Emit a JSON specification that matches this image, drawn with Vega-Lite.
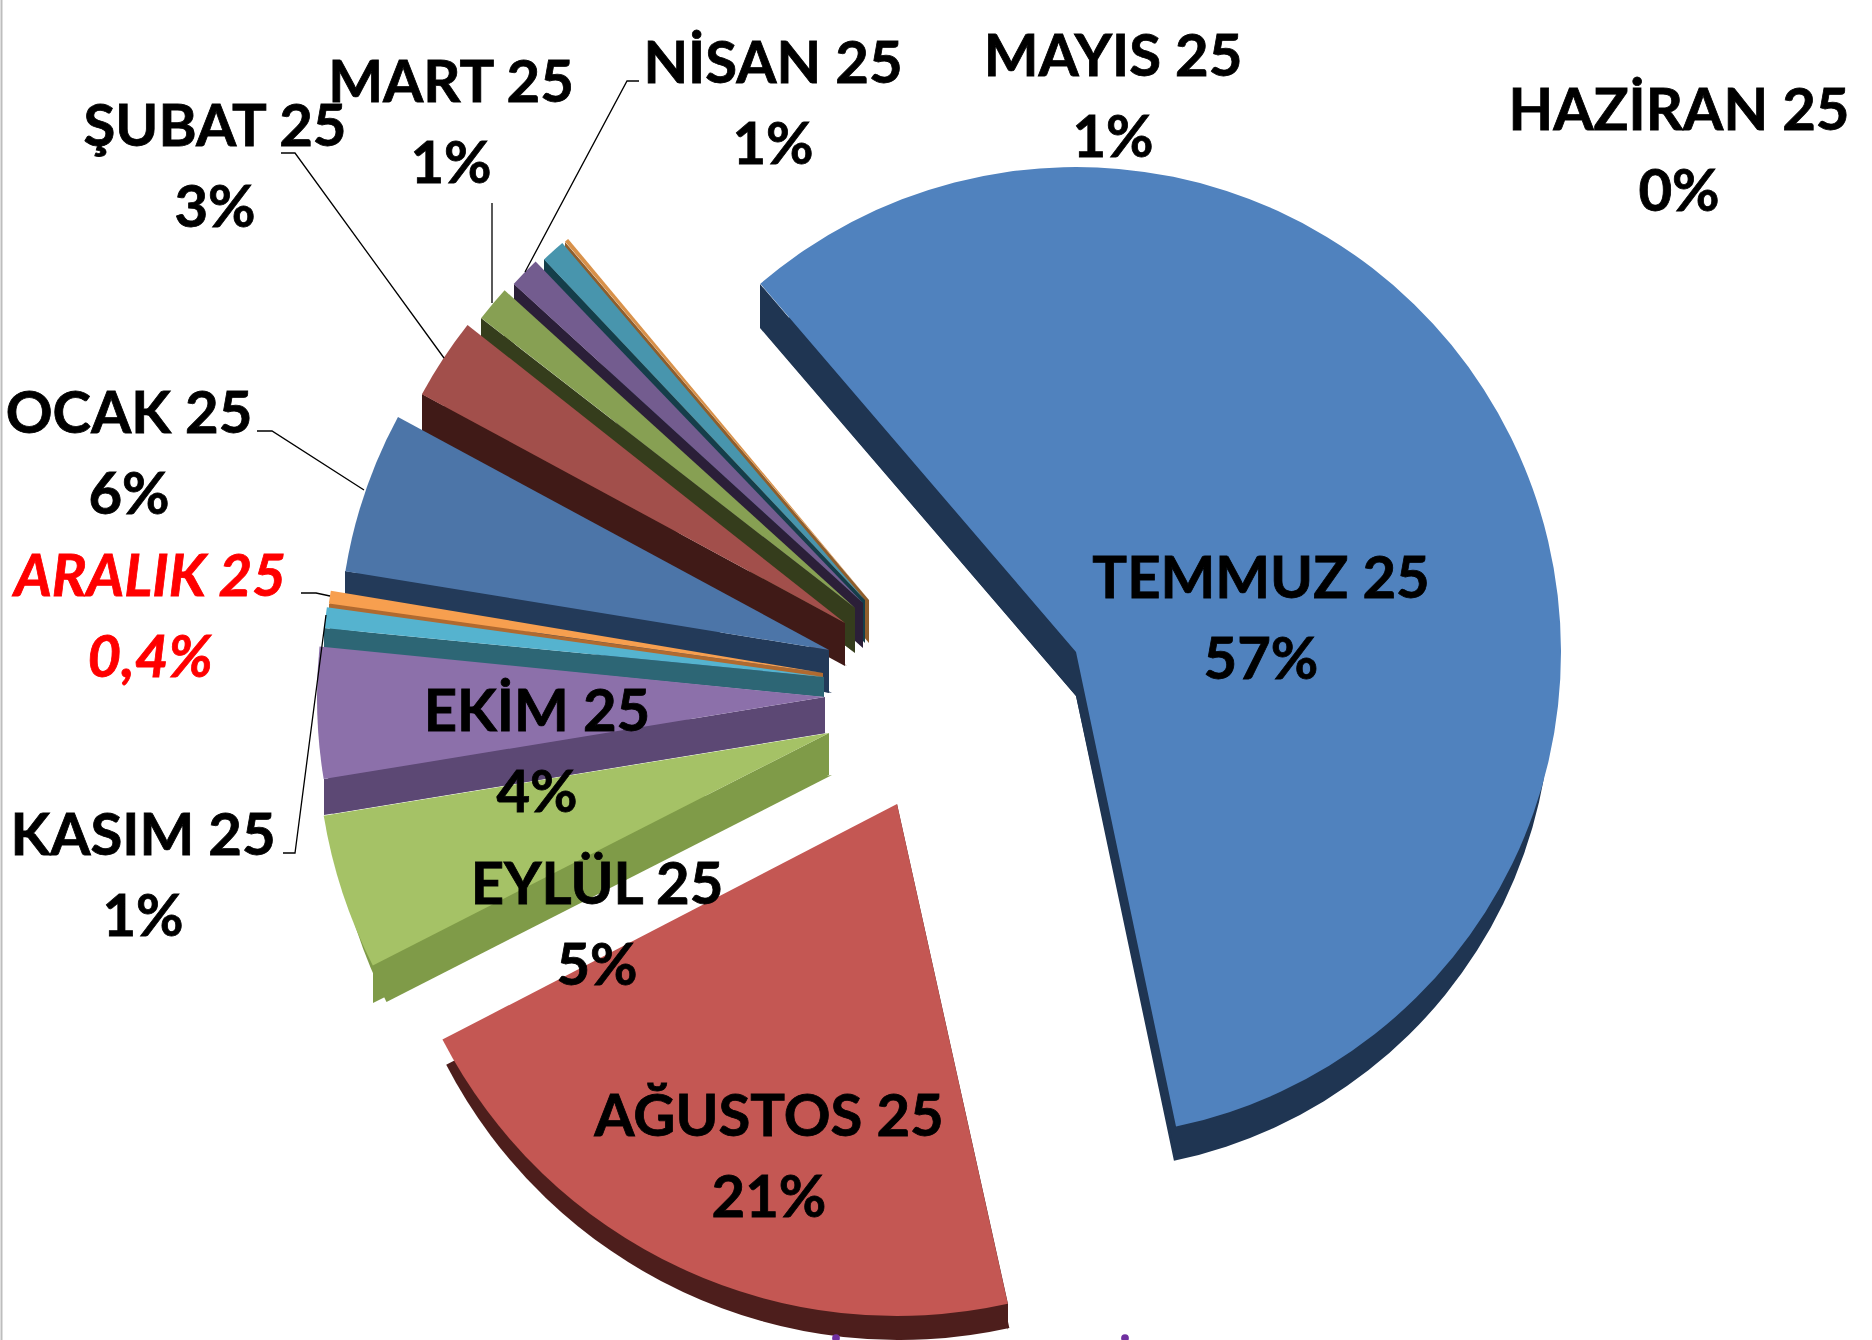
{
"$schema":"https://vega.github.io/schema/vega-lite/v6.json",
"width":1872,"height":1340,"padding":0,"autosize":{"type":"none"},
"background":"white",
"config":{"view":{"stroke":null}},
"datasets":{
"dilimler":[
{"ay":"HAZİRAN 25","pay":0.1,"baslangic":319.7,"bitis":320.2,"mx":869,"my":600,"yaricap":470,"alt_x":869,"alt_y":643,"alt_r":470},
{"ay":"MAYIS 25","pay":0.8,"baslangic":316.7,"bitis":319.7,"mx":865,"my":600,"yaricap":468,"alt_x":865,"alt_y":643,"alt_r":468},
{"ay":"NİSAN 25","pay":1.1,"baslangic":312.4,"bitis":316.2,"mx":863,"my":603,"yaricap":473,"alt_x":863,"alt_y":648,"alt_r":473},
{"ay":"MART 25","pay":1.2,"baslangic":307.8,"bitis":312.2,"mx":855,"my":608,"yaricap":473,"alt_x":855,"alt_y":653,"alt_r":473},
{"ay":"ŞUBAT 25","pay":2.8,"baslangic":298.4,"bitis":308.3,"mx":845,"my":623,"yaricap":481,"alt_x":847,"alt_y":666,"alt_r":480},
{"ay":"OCAK 25","pay":5.3,"baslangic":279.25,"bitis":298.4,"mx":829,"my":650,"yaricap":490,"alt_x":832,"alt_y":693,"alt_r":490},
{"ay":"ARALIK 25","pay":0.4,"baslangic":278,"bitis":279.5,"mx":823,"my":673,"yaricap":499,"alt_x":823,"alt_y":678,"alt_r":499},
{"ay":"KASIM 25","pay":0.7,"baslangic":275.6,"bitis":278,"mx":824,"my":677,"yaricap":502,"alt_x":825,"alt_y":697,"alt_r":500},
{"ay":"EKİM 25","pay":4.2,"baslangic":260.7,"bitis":275.7,"mx":825,"my":697,"yaricap":508,"alt_x":826,"alt_y":733,"alt_r":500},
{"ay":"EYLÜL 25","pay":4.9,"baslangic":243,"bitis":260.7,"mx":829,"my":733,"yaricap":512,"alt_x":832,"alt_y":775,"alt_r":500},
{"ay":"AĞUSTOS 25","pay":20.9,"baslangic":167.5,"bitis":242.6,"mx":897,"my":804,"yaricap":512,"alt_x":899,"alt_y":830,"alt_r":510},
{"ay":"TEMMUZ 25","pay":57.7,"baslangic":-40.6,"bitis":168.1,"mx":1076,"my":652,"yaricap":485,"alt_x":1076,"alt_y":696,"alt_r":475}
],
"yan_yuzler":[
{"ay":"HAZİRAN 25","kenar":"a","px":565,"ust":242,"alt":285},{"ay":"HAZİRAN 25","kenar":"a","px":869,"ust":600,"alt":643},
{"ay":"MAYIS 25","kenar":"a","px":544,"ust":259,"alt":302},{"ay":"MAYIS 25","kenar":"a","px":865,"ust":600,"alt":643},
{"ay":"NİSAN 25","kenar":"a","px":514,"ust":284,"alt":329},{"ay":"NİSAN 25","kenar":"a","px":863,"ust":603,"alt":648},
{"ay":"MART 25","kenar":"a","px":481,"ust":318,"alt":363},{"ay":"MART 25","kenar":"a","px":855,"ust":608,"alt":653},
{"ay":"ŞUBAT 25","kenar":"a","px":422,"ust":394,"alt":437},{"ay":"ŞUBAT 25","kenar":"a","px":845,"ust":623,"alt":666},
{"ay":"OCAK 25","kenar":"a","px":345,"ust":571,"alt":594},{"ay":"OCAK 25","kenar":"a","px":829,"ust":650,"alt":693},
{"ay":"ARALIK 25","kenar":"a","px":329,"ust":604,"alt":609},{"ay":"ARALIK 25","kenar":"a","px":823,"ust":673,"alt":678},
{"ay":"KASIM 25","kenar":"a","px":324,"ust":628,"alt":648},{"ay":"KASIM 25","kenar":"a","px":824,"ust":677,"alt":697},
{"ay":"EKİM 25","kenar":"a","px":324,"ust":779,"alt":815},{"ay":"EKİM 25","kenar":"a","px":825,"ust":697,"alt":733},
{"ay":"EYLÜL 25","kenar":"a","px":373,"ust":965,"alt":1003},{"ay":"EYLÜL 25","kenar":"a","px":829,"ust":733,"alt":775},
{"ay":"AĞUSTOS 25","kenar":"a","px":1008,"ust":1304,"alt":1330},{"ay":"AĞUSTOS 25","kenar":"a","px":897,"ust":804,"alt":830},
{"ay":"TEMMUZ 25","kenar":"a","px":760,"ust":284,"alt":328},{"ay":"TEMMUZ 25","kenar":"a","px":1076,"ust":652,"alt":696},
{"ay":"TEMMUZ 25","kenar":"b","px":1176,"ust":1127,"alt":1157},{"ay":"TEMMUZ 25","kenar":"b","px":1076,"ust":652,"alt":696}
],
"etiketler":[
{"metin":"TEMMUZ 25\n57%","lx":1261,"ly":581,"vurgu":false},
{"metin":"AĞUSTOS 25\n21%","lx":769,"ly":1119,"vurgu":false},
{"metin":"EYLÜL 25\n5%","lx":597,"ly":887,"vurgu":false},
{"metin":"EKİM 25\n4%","lx":537,"ly":714,"vurgu":false},
{"metin":"KASIM 25\n1%","lx":143,"ly":838,"vurgu":false},
{"metin":"ARALIK 25\n0,4%","lx":150,"ly":579,"vurgu":true},
{"metin":"OCAK 25\n6%","lx":129,"ly":416,"vurgu":false},
{"metin":"ŞUBAT 25\n3%","lx":215,"ly":129,"vurgu":false},
{"metin":"MART 25\n1%","lx":451,"ly":85,"vurgu":false},
{"metin":"NİSAN 25\n1%","lx":773,"ly":66,"vurgu":false},
{"metin":"MAYIS 25\n1%","lx":1113,"ly":59,"vurgu":false},
{"metin":"HAZİRAN 25\n0%","lx":1679,"ly":113,"vurgu":false}
],
"cizgiler":[
{"ay":"NİSAN","s":1,"px":639,"py":81},{"ay":"NİSAN","s":2,"px":627,"py":81},{"ay":"NİSAN","s":3,"px":525,"py":272},
{"ay":"MART","s":1,"px":492,"py":203},{"ay":"MART","s":2,"px":492,"py":303},
{"ay":"ŞUBAT","s":1,"px":281,"py":153},{"ay":"ŞUBAT","s":2,"px":295,"py":153},{"ay":"ŞUBAT","s":3,"px":444,"py":358},
{"ay":"OCAK","s":1,"px":257,"py":431},{"ay":"OCAK","s":2,"px":272,"py":431},{"ay":"OCAK","s":3,"px":364,"py":490},
{"ay":"ARALIK","s":1,"px":301,"py":593},{"ay":"ARALIK","s":2,"px":316,"py":593},{"ay":"ARALIK","s":3,"px":330,"py":596},
{"ay":"KASIM","s":1,"px":283,"py":853},{"ay":"KASIM","s":2,"px":295,"py":853},{"ay":"KASIM","s":3,"px":326,"py":615}
],
"noktalar":[{"px":836,"py":1338},{"px":1125,"py":1338}]
},
"layer":[
{"data":{"values":[{"px":1.5}]},"mark":{"type":"rule","color":"#bdbdbd","strokeWidth":2},"encoding":{"x":{"field":"px","type":"quantitative","scale":{"domain":[0,1872],"nice":false,"zero":false},"axis":null}}},
{"data":{"name":"dilimler"},"mark":{"type":"arc"},"encoding":{
"x":{"field":"alt_x","type":"quantitative","scale":{"domain":[0,1872],"nice":false,"zero":false},"axis":null},
"y":{"field":"alt_y","type":"quantitative","scale":{"domain":[1340,0],"nice":false,"zero":false},"axis":null},
"theta":{"field":"baslangic","type":"quantitative","stack":null,"scale":{"domain":[0,360],"range":[0,6.283185307]}},
"theta2":{"field":"bitis"},
"radius":{"field":"alt_r","type":"quantitative","scale":{"type":"linear","domain":[0,670],"range":[0,670]}},
"color":{"field":"ay","type":"nominal","legend":null,"scale":{"domain":["HAZİRAN 25","MAYIS 25","NİSAN 25","MART 25","ŞUBAT 25","OCAK 25","ARALIK 25","KASIM 25","EKİM 25","EYLÜL 25","AĞUSTOS 25","TEMMUZ 25"],"range":["#8f5e2c","#153e4a","#2b1f38","#353d1c","#401a17","#233a59","#b06a30","#2d6675","#5c4874","#7f9b48","#4d1e1c","#1f3552"]}}
}},
{"data":{"name":"yan_yuzler"},"mark":{"type":"area","orient":"vertical"},"encoding":{
"x":{"field":"px","type":"quantitative","scale":{"domain":[0,1872],"nice":false,"zero":false},"axis":null},
"y":{"field":"ust","type":"quantitative","stack":null,"scale":{"domain":[1340,0],"nice":false,"zero":false},"axis":null},
"y2":{"field":"alt"},
"detail":{"field":"kenar"},
"color":{"field":"ay","type":"nominal","legend":null,"scale":{"domain":["HAZİRAN 25","MAYIS 25","NİSAN 25","MART 25","ŞUBAT 25","OCAK 25","ARALIK 25","KASIM 25","EKİM 25","EYLÜL 25","AĞUSTOS 25","TEMMUZ 25"],"range":["#8f5e2c","#153e4a","#2b1f38","#353d1c","#401a17","#233a59","#b06a30","#2d6675","#5c4874","#7f9b48","#4d1e1c","#1f3552"]}}
}},
{"data":{"name":"dilimler"},"mark":{"type":"arc"},"encoding":{
"x":{"field":"mx","type":"quantitative","scale":{"domain":[0,1872],"nice":false,"zero":false},"axis":null},
"y":{"field":"my","type":"quantitative","scale":{"domain":[1340,0],"nice":false,"zero":false},"axis":null},
"theta":{"field":"baslangic","type":"quantitative","stack":null,"scale":{"domain":[0,360],"range":[0,6.283185307]}},
"theta2":{"field":"bitis"},
"radius":{"field":"yaricap","type":"quantitative","scale":{"type":"linear","domain":[0,670],"range":[0,670]}},
"fill":{"field":"ay","type":"nominal","legend":null,"scale":{"domain":["HAZİRAN 25","MAYIS 25","NİSAN 25","MART 25","ŞUBAT 25","OCAK 25","ARALIK 25","KASIM 25","EKİM 25","EYLÜL 25","AĞUSTOS 25","TEMMUZ 25"],"range":["#d8914a","#4895ad","#735c8f","#87a053","#a24f4b","#4c75a8","#f79f4f","#55b3cf","#8c70aa","#a5c266","#c45753","#5082be"]}}
}},
{"data":{"name":"cizgiler"},"mark":{"type":"line","color":"#000000","strokeWidth":1.3},"encoding":{
"x":{"field":"px","type":"quantitative","scale":{"domain":[0,1872],"nice":false,"zero":false},"axis":null},
"y":{"field":"py","type":"quantitative","scale":{"domain":[1340,0],"nice":false,"zero":false},"axis":null},
"detail":{"field":"ay"},
"order":{"field":"s","type":"quantitative"}
}},
{"data":{"name":"noktalar"},"mark":{"type":"point","filled":true,"color":"#7030a0","size":60,"opacity":1},"encoding":{
"x":{"field":"px","type":"quantitative","scale":{"domain":[0,1872],"nice":false,"zero":false},"axis":null},
"y":{"field":"py","type":"quantitative","scale":{"domain":[1340,0],"nice":false,"zero":false},"axis":null}
}},
{"data":{"name":"etiketler"},"transform":[{"filter":"!datum.vurgu"}],"mark":{"type":"text","font":"Lato","fontWeight":"bold","fontSize":58,"lineBreak":"\n","lineHeight":81,"align":"center","baseline":"middle","color":"#000000","stroke":"#000000","strokeWidth":0.8},"encoding":{
"x":{"field":"lx","type":"quantitative","scale":{"domain":[0,1872],"nice":false,"zero":false},"axis":null},
"y":{"field":"ly","type":"quantitative","scale":{"domain":[1340,0],"nice":false,"zero":false},"axis":null},
"text":{"field":"metin"}
}},
{"data":{"name":"etiketler"},"transform":[{"filter":"datum.vurgu"}],"mark":{"type":"text","font":"Lato","fontWeight":"bold","fontStyle":"italic","fontSize":58,"lineBreak":"\n","lineHeight":81,"align":"center","baseline":"middle","color":"#ff0000","stroke":"#ff0000","strokeWidth":0.8},"encoding":{
"x":{"field":"lx","type":"quantitative","scale":{"domain":[0,1872],"nice":false,"zero":false},"axis":null},
"y":{"field":"ly","type":"quantitative","scale":{"domain":[1340,0],"nice":false,"zero":false},"axis":null},
"text":{"field":"metin"}
}}
]
}
